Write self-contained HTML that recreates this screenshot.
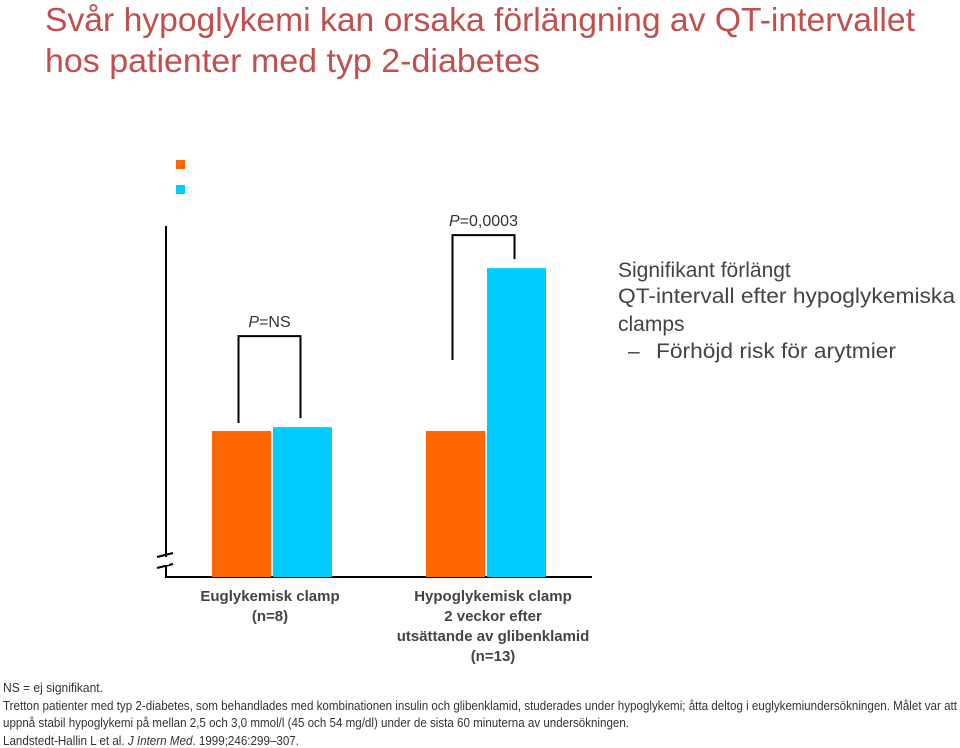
<!DOCTYPE html>
<html><head><meta charset="utf-8"><style>
html,body{margin:0;padding:0;background:#fff;width:960px;height:748px;overflow:hidden}
svg{display:block;font-family:"Liberation Sans",sans-serif}
</style></head><body>
<svg id="chart" width="960" height="748" viewBox="0 0 960 748">
<g fill="#c0504d" font-size="33">
<text x="45" y="31" textLength="870" lengthAdjust="spacingAndGlyphs">Svår hypoglykemi kan orsaka förlängning av QT-intervallet</text>
<text x="45" y="72" textLength="495" lengthAdjust="spacingAndGlyphs">hos patienter med typ 2-diabetes</text>
</g>
<rect x="176" y="160" width="9" height="9" fill="#ff6600"/>
<rect x="176" y="185" width="9" height="9" fill="#00ccff"/>
<g id="axes"></g>
<g id="bars"></g>
<g id="brackets"></g>
<g font-size="15" font-weight="bold" fill="#444" text-anchor="middle">
<text x="270" y="601">Euglykemisk clamp</text>
<text x="270" y="621">(n=8)</text>
<text x="493" y="601">Hypoglykemisk clamp</text>
<text x="493" y="621">2 veckor efter</text>
<text x="493" y="641">utsättande av glibenklamid</text>
<text x="493" y="661">(n=13)</text>
</g>
<g fill="#444" font-size="21">
<text x="618" y="277">Signifikant förlängt</text>
<text x="618" y="303" textLength="337" lengthAdjust="spacingAndGlyphs">QT-intervall efter hypoglykemiska</text>
<text x="618" y="331">clamps</text>
<text x="628" y="358">–</text>
<text x="656" y="358" textLength="240" lengthAdjust="spacingAndGlyphs">Förhöjd risk för arytmier</text>
</g>
<g fill="#333" font-size="13">
<text x="3" y="692" textLength="100" lengthAdjust="spacingAndGlyphs">NS = ej signifikant.</text>
<text x="3" y="710" textLength="954" lengthAdjust="spacingAndGlyphs">Tretton patienter med typ 2-diabetes, som behandlades med kombinationen insulin och glibenklamid, studerades under hypoglykemi; åtta deltog i euglykemiundersökningen. Målet var att</text>
<text x="3" y="727" textLength="626" lengthAdjust="spacingAndGlyphs">uppnå stabil hypoglykemi på mellan 2,5 och 3,0 mmol/l (45 och 54 mg/dl) under de sista 60 minuterna av undersökningen.</text>
<text x="3" y="745" textLength="296" lengthAdjust="spacingAndGlyphs">Landstedt-Hallin L et al. <tspan font-style="italic">J Intern Med</tspan>. 1999;246:299–307.</text>
</g>
</svg>
<script>
const groups = ["Euglykemisk clamp", "Hypoglykemisk clamp"];
const seriesNames = ["Före", "Efter"];
const beforeValues = [41.6, 41.6];
const afterValues = [42.7, 88.0];
const pLabels = ["=NS", "=0,0003"];

const NS = "http://www.w3.org/2000/svg";
const y0 = 577, yTop = 226;
function yScale(v){ return y0 - (v/100)*(y0-yTop); }
const groupStart = [212, 426];
const barW = 59, gap = 2;
function xBar(g, s){ return groupStart[g] + s*(barW+gap); }
function mk(tag, attrs, parent){ const e=document.createElementNS(NS,tag); for(const k in attrs) e.setAttribute(k,attrs[k]); parent.appendChild(e); return e; }

const axes = document.getElementById('axes');
let yl = mk('line',{x1:166,y1:yTop,x2:166,y2:y0,stroke:'#000','stroke-width':2},axes);


let xl = mk('line',{x1:165,y1:y0,x2:592,y2:y0,stroke:'#000','stroke-width':2},axes);


let brk = mk('path',{d:'M157 557 L173 553 M157 568 L173 564',stroke:'#000','stroke-width':2,fill:'none'},axes);


let brkW = mk('rect',{x:163,y:557,width:6,height:8,fill:'#fff'},axes);



const bars = document.getElementById('bars');
const colors = ['#ff6600','#00ccff'];
const allSeries = [beforeValues, afterValues];
for(let g=0; g<groups.length; g++){
  for(let s=0; s<2; s++){
    const v = allSeries[s][g];
    const r = mk('rect',{x:xBar(g,s),y:yScale(v),width:barW,height:y0-yScale(v),fill:colors[s]},bars);
    
    
  }
}

const br = document.getElementById('brackets');
for(let g=0; g<groups.length; g++){
  const xl1 = xBar(g,0)+barW/2-3, xr1 = xBar(g,1)+barW/2-2;
  const topV = Math.max(beforeValues[g], afterValues[g]);
  const top = yScale(topV) - (g===0 ? 91 : 33);
  const lb = yScale(beforeValues[g]) - (g===0 ? 8 : 71);
  const rb = yScale(afterValues[g]) - 9;
  const p = mk('path',{d:`M${xl1} ${lb} L${xl1} ${top} L${xr1} ${top} L${xr1} ${rb}`,stroke:'#000','stroke-width':2,fill:'none'},br);
  
  
  const t = mk('text',{x:(xl1+xr1)/2,y:top-9,'text-anchor':'middle','font-size':16,fill:'#333'},br);
  
  
  const ts = document.createElementNS(NS,'tspan'); ts.setAttribute('font-style','italic'); ts.textContent='P'; t.appendChild(ts);
  t.appendChild(document.createTextNode(pLabels[g]));
}
</script>
</body></html>
